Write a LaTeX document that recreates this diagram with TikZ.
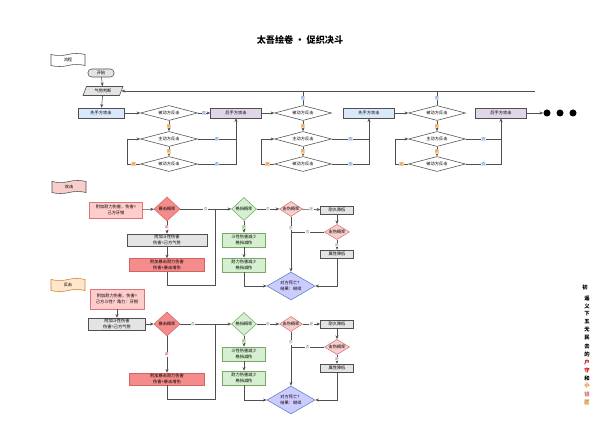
\documentclass[tikz,border=0pt]{standalone}
\usepackage{fontspec}
\setmainfont{Noto Sans CJK SC}
\usetikzlibrary{arrows.meta,positioning,shapes.geometric,shapes.symbols}
\definecolor{linegray}{RGB}{80,80,80}
\definecolor{bluefill}{RGB}{218,232,252}
\definecolor{bluetext}{RGB}{90,130,190}
\definecolor{purplefill}{RGB}{225,213,231}
\definecolor{grayfill}{RGB}{228,228,228}
\definecolor{pinkfill}{RGB}{255,204,204}
\definecolor{pinkdiam}{RGB}{248,206,204}
\definecolor{redfill}{RGB}{245,140,140}
\definecolor{greenfill}{RGB}{213,240,208}
\definecolor{greenline}{RGB}{120,170,100}
\definecolor{lavender}{RGB}{204,204,255}
\definecolor{peachfill}{RGB}{255,230,204}
\definecolor{orangefill}{RGB}{255,214,170}
\definecolor{orangetext}{RGB}{210,130,40}
\definecolor{redtext}{RGB}{200,60,60}
\newcommand{\pxl}{0.025cm}
\tikzset{
  base/.style={draw=linegray, line width=0.4pt, inner sep=0.5pt, align=center,
    font=\fontsize{3}{3.8}\selectfont},
  box/.style 2 args={base, rectangle, minimum width=#1*\pxl, minimum height=#2*\pxl},
  dmd/.style 2 args={base, diamond, aspect=4, inner sep=0pt,
    minimum width=#1*\pxl, minimum height=#2*\pxl},
  flagbox/.style={base, tape, tape bend height=1.4pt, minimum width=34*\pxl,
    minimum height=13*\pxl},
  arr/.style={draw=linegray, line width=0.4pt, -{Stealth[length=2.6pt,width=2.2pt]}},
  ln/.style={draw=linegray, line width=0.4pt},
  lbl/.style={inner sep=0.4pt, font=\fontsize{2.6}{3}\selectfont},
  no/.style={lbl, fill=bluefill, text=bluetext},
  yes/.style={lbl, fill=orangefill, text=orangetext},
  plain/.style={lbl, fill=white, text=gray},
  dot/.style={circle, fill=black, minimum size=7*\pxl, inner sep=0pt},
  sig/.style={font=\bfseries\fontsize{3.8}{4}\selectfont, inner sep=0pt}
}

\begin{document}
\begin{tikzpicture}[x=0.025cm,y=-0.025cm]
  \useasboundingbox[fill=white] (0,0) rectangle (600,439);
  \node[font=\bfseries\fontsize{6.5}{8}\selectfont] (title) at (300,40) {太吾绘卷 · 促织决斗};

  % ---- 流程
  \node[flagbox, fill=white] (flow) at (68,60) {流程};
  \node[box={26}{8}, fill=grayfill, rounded corners=2.5pt] (start) at (101,73) {开始};
  \node[base, trapezium, trapezium left angle=70, trapezium right angle=110,
    trapezium stretches=true, fill=grayfill, minimum width=40*\pxl,
    minimum height=9*\pxl] (qs) at (103,91) {气势判断};
  \node[box={46}{10}, fill=bluefill] (xs1) at (101,113) {先手方攻击};
  \node[box={51}{10}, fill=purplefill] (hs1) at (236,113) {后手方攻击};
  \node[box={51}{10}, fill=bluefill] (xs2) at (369,113) {先手方攻击};
  \node[box={51}{10}, fill=purplefill] (hs2) at (501,113) {后手方攻击};
  \foreach \n/\x in {1/169,2/303,3/437} {
    \node[dmd={57}{15}, fill=white] (bd\n) at (\x,113) {被动方反击};
    \node[dmd={57}{15}, fill=white] (zd\n) at (\x,139) {主动方反击};
    \node[dmd={57}{15}, fill=white] (bf\n) at (\x,164) {被动方反击};
    \draw[arr] (bd\n.south) -- node[yes]{是} (zd\n.north);
    \draw[arr] (zd\n.south) -- node[yes]{是} (bf\n.north);
    \draw[arr] (bf\n.west) -- node[yes]{是} ([xshift=-0.33cm]bf\n.west) |- (zd\n.west);
  }
  \node[dot] (d1) at (547,113) {};
  \node[dot] (d2) at (560,113) {};
  \node[dot] (d3) at (573,113) {};
  \coordinate (topend) at (535,91);

  \draw[arr] (start) -- (qs);
  \draw[arr] (qs) -- (xs1);
  \draw[arr] (xs1) -- (bd1);
  \draw[arr] (bd1) -- node[no]{否} (hs1);
  \draw[ln] (zd1.east) -- node[no]{否} (zd1.east -| hs1.south);
  \draw[arr] (bf1.east) -- node[no]{否} (bf1.east -| hs1.south) -- (hs1.south);
  \draw[arr] (hs1) -- (bd2);
  \draw[ln] (zd2.east) -- node[no]{否} (zd2.east -| xs2.south);
  \draw[arr] (bf2.east) -- node[no]{否} (bf2.east -| xs2.south) -- (xs2.south);
  \draw[arr] (xs2) -- (bd3);
  \draw[ln] (zd3.east) -- node[no]{否} (zd3.east -| hs2.south);
  \draw[arr] (bf3.east) -- node[no]{否} (bf3.east -| hs2.south) -- (hs2.south);
  \draw[arr] (hs2) -- (d1);
  \draw[arr] (topend) -- (qs.east);
  \draw[ln] (bd2.north) -- node[no]{否} (bd2.north |- qs.east);
  \draw[ln] (bd3.north) -- node[no]{否} (bd3.north |- qs.east);

  % ---- 攻击
  \node[flagbox, fill=pinkdiam] (atk) at (69,187) {攻击};
  \node[box={53}{16}, fill=pinkfill, draw=redtext!70] (a0) at (116,210) {附加耐力伤害，伤害=\\己方牙钳};
  \node[dmd={26}{24}, aspect=1, fill=redfill, draw=redtext!80] (a1) at (167,209) {暴击概率};
  \node[box={80}{12}, fill=grayfill] (a2) at (167,240) {附加斗性伤害\\伤害=己方气势};
  \node[box={75}{13}, fill=redfill, draw=redtext!80] (a3) at (167,265) {附加暴击耐力伤害\\伤害+暴击增伤};
  \node[dmd={25}{23}, aspect=1, fill=greenfill, draw=greenline] (a4) at (244,209) {格挡概率};
  \node[box={43}{14}, fill=greenfill, draw=greenline] (a5) at (244,240) {斗性伤害减少\\格挡减伤};
  \node[box={43}{14}, fill=greenfill, draw=greenline] (a6) at (244,265) {耐力伤害减少\\格挡减伤};
  \node[dmd={22}{15}, aspect=1.5, fill=pinkdiam, draw=redtext!70] (a7) at (291,209) {击伤概率};
  \node[box={33}{8}, fill=grayfill] (a8) at (337,210) {耐久降低};
  \node[dmd={25}{15}, aspect=1.5, fill=pinkdiam, draw=redtext!70] (a9) at (337,232) {击伤概率};
  \node[box={33}{8}, fill=grayfill] (a10) at (337,254) {属性降低};
  \node[dmd={48}{28}, aspect=1.7, fill=lavender, draw=bluetext] (a11) at (291,286) {对方死亡？\\结果：继续};
  \coordinate (am) at (215,209);

  \draw[arr] (a0) -- (a1);
  \draw[arr] (a1) -- node[plain, pos=0.5]{否} (a4);
  \draw[arr] (a1) -- node[lbl, fill=white, text=redtext]{是} (a2);
  \draw[arr] (a2) -- (a3);
  \draw[ln] (a3.south) -- ++(0,14) -| (am);
  \draw[arr] (a4) -- node[plain]{否} (a7);
  \draw[arr] (a4) -- node[lbl, fill=greenfill, text=greenline]{是} (a5);
  \draw[arr] (a5) -- (a6);
  \draw[arr] (a6.south) |- (a11.west);
  \draw[arr] (a7) -- node[plain]{是} (a8);
  \draw[arr] (a8) -- (a9);
  \draw[ln] (a9.west) -- node[plain]{否} (a9.west -| a7.south);
  \draw[arr] (a7.south) -- node[plain, pos=0.2]{否} (a11.north);
  \draw[arr] (a9) -- node[plain]{是} (a10);
  \draw[arr] (a10.south) |- (a11.east);

  % ---- 反击
  \node[flagbox, fill=peachfill, draw=orangetext] (ctr) at (68,285) {反击};
  \node[box={54}{20}, fill=pinkfill, draw=redtext!70] (b0) at (117,299) {附加耐力伤害，伤害=\\己方斗性？角力：牙钳};
  \node[box={57}{12}, fill=grayfill] (b1) at (117,324) {附加斗性伤害\\伤害=己方气势};
  \node[dmd={26}{24}, aspect=1, fill=redfill, draw=redtext!80] (b2) at (167,324) {暴击概率};
  \node[box={75}{12}, fill=redfill, draw=redtext!80] (b3) at (167,379) {附加暴击耐力伤害\\伤害+暴击增伤};
  \node[dmd={25}{23}, aspect=1, fill=greenfill, draw=greenline] (b4) at (244,324) {格挡概率};
  \node[box={43}{14}, fill=greenfill, draw=greenline] (b5) at (244,354) {斗性伤害减少\\格挡减伤};
  \node[box={43}{14}, fill=greenfill, draw=greenline] (b6) at (244,378) {耐力伤害减少\\格挡减伤};
  \node[dmd={22}{15}, aspect=1.5, fill=pinkdiam, draw=redtext!70] (b7) at (291,324) {击伤概率};
  \node[box={33}{8}, fill=grayfill] (b8) at (337,324) {耐久降低};
  \node[dmd={25}{15}, aspect=1.5, fill=pinkdiam, draw=redtext!70] (b9) at (337,347) {击伤概率};
  \node[box={33}{8}, fill=grayfill] (b10) at (337,368) {属性降低};
  \node[dmd={48}{28}, aspect=1.7, fill=lavender, draw=bluetext] (b11) at (291,400) {对方死亡？\\结果：继续};
  \coordinate (bm) at (215,324);

  \draw[arr] (b0) -- (b1);
  \draw[arr] (b1) -- (b2);
  \draw[arr] (b2) -- node[plain, pos=0.25]{否} (b4);
  \draw[arr] (b2) -- node[lbl, fill=white, text=redtext]{是} (b3);
  \draw[ln] (b3.south) -- ++(0,14) -| (bm);
  \draw[arr] (b4) -- node[plain]{否} (b7);
  \draw[arr] (b4) -- node[lbl, fill=greenfill, text=greenline]{是} (b5);
  \draw[arr] (b5) -- (b6);
  \draw[arr] (b6.south) |- (b11.west);
  \draw[arr] (b7) -- node[plain]{是} (b8);
  \draw[arr] (b8) -- (b9);
  \draw[ln] (b9.west) -- node[plain]{否} (b9.west -| b7.south);
  \draw[arr] (b7.south) -- node[plain, pos=0.2]{否} (b11.north);
  \draw[arr] (b9) -- node[plain]{是} (b10);
  \draw[arr] (b10.south) |- (b11.east);

  % signature
  \node[sig] (s0) at (585,287) {初};
  \foreach \ch/\col [count=\i] in {遥/black,义/black,下/black,五/black,无/black,
      民/black,去/black,的/black,户/red!80!black,守/red!80!black,和/black,
      小/orangetext,银/redtext!70,匠/orangetext}
    \node[sig, text=\col] (s\i) at (587,290+8*\i) {\ch};
\end{tikzpicture}
\end{document}
